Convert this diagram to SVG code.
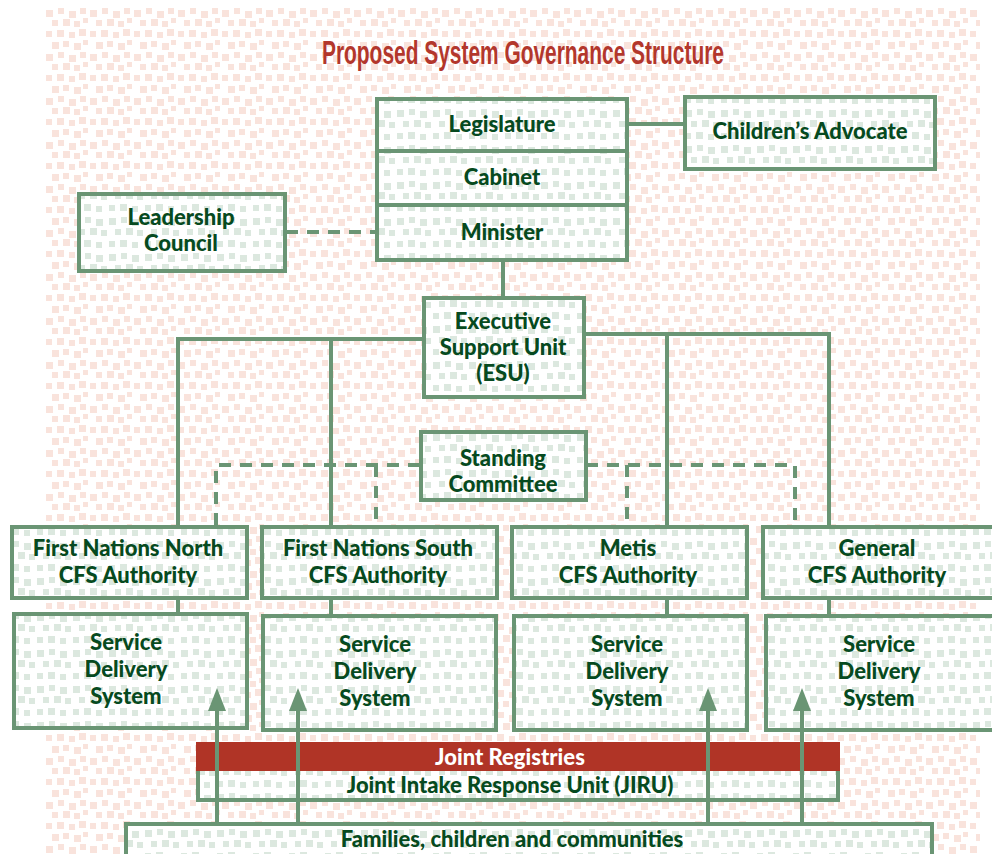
<svg xmlns="http://www.w3.org/2000/svg" width="992" height="854" viewBox="0 0 992 854">
<defs>
<pattern id="pink" x="44" y="7" width="44" height="44" patternUnits="userSpaceOnUse">
<g fill="#f9e3dc">
<rect x="2" y="3" width="7" height="7"/><rect x="14" y="1" width="6" height="6"/><rect x="25" y="4" width="7" height="7"/><rect x="36" y="1" width="6" height="6"/>
<rect x="8" y="13" width="6" height="6"/><rect x="19" y="12" width="7" height="7"/><rect x="30" y="14" width="6" height="6"/><rect x="39" y="11" width="5" height="5"/>
<rect x="2" y="24" width="6" height="6"/><rect x="13" y="23" width="7" height="7"/><rect x="25" y="25" width="6" height="6"/><rect x="35" y="22" width="7" height="7"/>
<rect x="8" y="35" width="7" height="7"/><rect x="19" y="34" width="6" height="6"/><rect x="30" y="36" width="7" height="7"/><rect x="39" y="33" width="5" height="5"/>
</g>
</pattern>
<pattern id="green" x="0" y="0" width="36" height="36" patternUnits="userSpaceOnUse">
<rect width="36" height="36" fill="#ffffff"/>
<g fill="#dce8df">
<rect x="1" y="2" width="7" height="7"/><rect x="13" y="1" width="6" height="6"/><rect x="24" y="3" width="7" height="7"/>
<rect x="7" y="13" width="6" height="6"/><rect x="18" y="12" width="7" height="7"/><rect x="29" y="14" width="6" height="6"/>
<rect x="1" y="25" width="6" height="6"/><rect x="12" y="24" width="7" height="7"/><rect x="24" y="26" width="6" height="6"/>
</g>
</pattern>
</defs>
<style>
.box{fill:url(#green);stroke:#6a9574;stroke-width:4}
.ln{stroke:#6a9574;stroke-width:4;fill:none}
.dash{stroke:#6a9574;stroke-width:4;fill:none;stroke-dasharray:12 9}
.ah{fill:#6a9574}
.t{font-family:Lato,"Open Sans","Liberation Sans",sans-serif;font-weight:900;font-size:22px;fill:#064a20;text-anchor:middle}
.w{fill:#ffffff}
.title{font-family:"Liberation Sans",sans-serif;font-weight:bold;font-size:33px;fill:#b3372c;text-anchor:middle}
</style>
<rect x="0" y="0" width="992" height="854" fill="#ffffff"/>
<rect x="44" y="7" width="936" height="847" fill="url(#pink)"/>
<text class="title" x="523" y="64" textLength="402" lengthAdjust="spacingAndGlyphs">Proposed System Governance Structure</text>

<g id="connectors">
<line class="ln" x1="627" y1="124" x2="685" y2="124"/>
<line class="dash" x1="286" y1="232" x2="377" y2="232"/>
<line class="ln" x1="503" y1="260" x2="503" y2="298"/>
<polyline class="ln" points="424,339 178,339 178,527"/>
<line class="ln" x1="331" y1="339" x2="331" y2="527"/>
<polyline class="ln" points="584,334 829,334 829,527"/>
<line class="ln" x1="667" y1="334" x2="667" y2="527"/>
<polyline class="dash" points="420,465 216,465 216,527"/>
<line class="dash" x1="376" y1="465" x2="376" y2="527"/>
<polyline class="dash" points="586,465 795,465 795,527"/>
<line class="dash" x1="627" y1="465" x2="627" y2="527"/>
<line class="ln" x1="178" y1="598" x2="178" y2="614"/>
<line class="ln" x1="331" y1="598" x2="331" y2="616"/>
<line class="ln" x1="667" y1="598" x2="667" y2="616"/>
<line class="ln" x1="829" y1="598" x2="829" y2="616"/>
</g>

<g id="legislature-stack">
<rect class="box" x="377" y="99" width="250" height="161"/>
<line class="ln" x1="377" y1="151" x2="627" y2="151"/>
<line class="ln" x1="377" y1="205" x2="627" y2="205"/>
<text class="t" x="502" y="132">Legislature</text>
<text class="t" x="502" y="185">Cabinet</text>
<text class="t" x="502" y="240">Minister</text>
</g>
<g id="childrens-advocate">
<rect class="box" x="685" y="97" width="250" height="72"/>
<text class="t" x="810" y="139">Children’s Advocate</text>
</g>
<g id="leadership-council">
<rect class="box" x="79" y="194" width="206" height="77"/>
<text class="t" x="181" y="225">Leadership</text>
<text class="t" x="181" y="251">Council</text>
</g>
<g id="esu">
<rect class="box" x="424" y="298" width="160" height="99"/>
<text class="t" x="503" y="329">Executive</text>
<text class="t" x="503" y="355">Support Unit</text>
<text class="t" x="503" y="381">(ESU)</text>
</g>
<g id="standing-committee">
<rect class="box" x="421" y="432" width="165" height="68"/>
<text class="t" x="503" y="466">Standing</text>
<text class="t" x="503" y="492">Committee</text>
</g>

<g id="fn-north">
<rect class="box" x="12" y="527" width="235" height="71"/>
<text class="t" x="128" y="556">First Nations North</text>
<text class="t" x="128" y="583">CFS Authority</text>
</g>
<g id="fn-south">
<rect class="box" x="262" y="527" width="235" height="71"/>
<text class="t" x="378" y="556">First Nations South</text>
<text class="t" x="378" y="583">CFS Authority</text>
</g>
<g id="metis">
<rect class="box" x="512" y="527" width="235" height="71"/>
<text class="t" x="628" y="556">Metis</text>
<text class="t" x="628" y="583">CFS Authority</text>
</g>
<g id="general">
<rect class="box" x="763" y="527" width="233" height="71"/>
<text class="t" x="877" y="556">General</text>
<text class="t" x="877" y="583">CFS Authority</text>
</g>

<g id="sds-1">
<rect class="box" x="14" y="614" width="233" height="114"/>
<text class="t" x="126" y="650">Service</text>
<text class="t" x="126" y="677">Delivery</text>
<text class="t" x="126" y="704">System</text>
</g>
<g id="sds-2">
<rect class="box" x="263" y="616" width="233" height="114"/>
<text class="t" x="375" y="652">Service</text>
<text class="t" x="375" y="679">Delivery</text>
<text class="t" x="375" y="706">System</text>
</g>
<g id="sds-3">
<rect class="box" x="514" y="616" width="233" height="114"/>
<text class="t" x="627" y="652">Service</text>
<text class="t" x="627" y="679">Delivery</text>
<text class="t" x="627" y="706">System</text>
</g>
<g id="sds-4">
<rect class="box" x="766" y="616" width="230" height="114"/>
<text class="t" x="879" y="652">Service</text>
<text class="t" x="879" y="679">Delivery</text>
<text class="t" x="879" y="706">System</text>
</g>

<g id="jiru">
<rect class="box" x="198" y="756" width="640" height="44"/>
<rect x="196" y="742" width="644" height="29" fill="#b03426"/>
<text class="t w" x="510" y="765">Joint Registries</text>
<text class="t" x="510" y="793">Joint Intake Response Unit (JIRU)</text>
</g>
<g id="families">
<rect class="box" x="126" y="824" width="806" height="40"/>
<text class="t" x="512" y="847">Families, children and communities</text>
</g>

<g id="arrows">
<line class="ln" x1="217" y1="824" x2="217" y2="708"/>
<polygon class="ah" points="217,688 208,711 226,711"/>
<line class="ln" x1="298" y1="824" x2="298" y2="708"/>
<polygon class="ah" points="298,688 289,711 307,711"/>
<line class="ln" x1="708" y1="824" x2="708" y2="708"/>
<polygon class="ah" points="708,688 699,711 717,711"/>
<line class="ln" x1="802" y1="824" x2="802" y2="708"/>
<polygon class="ah" points="802,688 793,711 811,711"/>
</g>
</svg>
